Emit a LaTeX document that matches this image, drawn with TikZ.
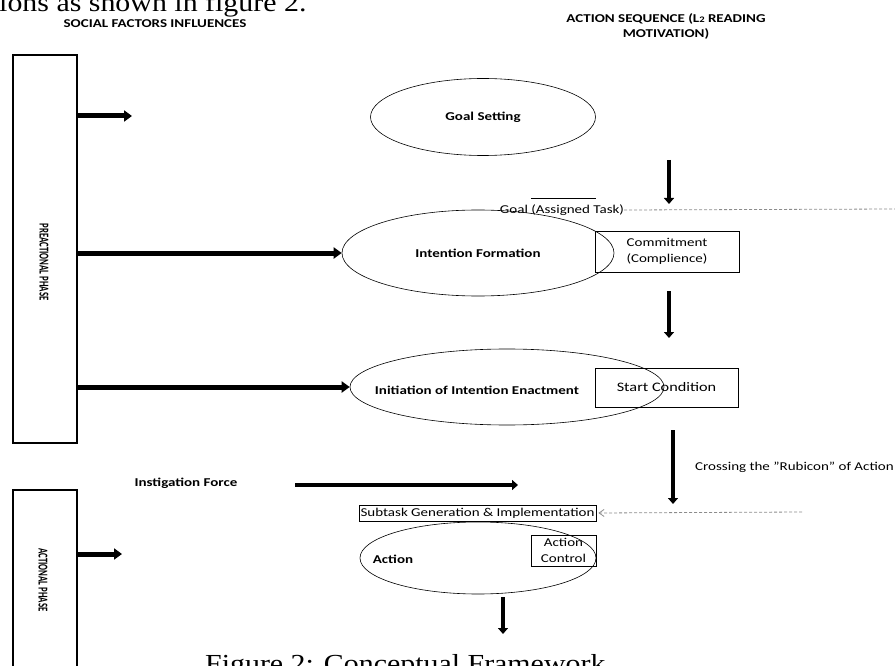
\documentclass[tikz,border=0pt]{standalone}
\usepackage{fontspec}
\setmainfont{Carlito}[FakeStretch=1.25]
\newfontfamily\capserif{Liberation Serif}[FakeStretch=1.15]
\newfontfamily\phasefont{Carlito}[FakeStretch=0.65]
\usetikzlibrary{arrows.meta,shapes.geometric,positioning}

\begin{document}
\begin{tikzpicture}[x=1pt,y=-1pt,
  lbl/.style={inner sep=0pt,font=\fontsize{12}{15}\selectfont},
  boldlbl/.style={inner sep=0pt,font=\fontsize{12}{14}\selectfont\bfseries},
  heading/.style={inner sep=0pt,align=center,font=\fontsize{12}{15}\selectfont\bfseries},
  serifline/.style={anchor=base west,inner sep=0pt,font=\capserif\fontsize{26}{30}\selectfont},
  phasebox/.style={draw,line width=1.2pt,inner sep=0pt},
  phasename/.style={rotate=-90,inner sep=0pt,font=\phasefont\fontsize{13.5}{15}\selectfont\bfseries},
  stage/.style={ellipse,draw,line width=0.6pt,inner sep=0pt,font=\fontsize{12}{14}\selectfont\bfseries},
  tagbox/.style={draw,line width=0.8pt,inner sep=0pt,align=center,font=\fontsize{12}{16}\selectfont},
  fatarrow/.style={-{Triangle[length=8pt,width=11pt]},line width=5pt},
  slimarrow/.style={-{Triangle[length=6pt,width=10pt]},line width=4pt},
  greydash/.style={black!45,line width=0.8pt,dash pattern=on 3pt off 2pt}
]
\clip (0,0) rectangle (895,666);

\node[serifline] (lead) at (-1,12) {ions as shown in figure 2.};
\node[heading] (social) at (155,24) {SOCIAL FACTORS INFLUENCES};
\node[heading] (sequence) at (666,26) {ACTION SEQUENCE (L{\fontsize{8.5}{9}\selectfont 2} READING\\MOTIVATION)};

\node[phasebox,minimum width=64pt,minimum height=388pt] (pre) at (45,249) {};
\node[phasename] (prename) at (44,262) {PREACTIONAL PHASE};
\node[phasebox,minimum width=64pt,minimum height=210pt] (act) at (45,595) {};
\node[phasename] (actname) at (43,580) {ACTIONAL PHASE};

\node[stage,minimum width=225pt,minimum height=77pt] (goal) at (483,117) {Goal Setting};
\node[lbl] (assigned) at (562,210) {Goal (Assigned Task)};
\draw[line width=0.8pt] ([xshift=31pt,yshift=6pt]assigned.north west) -- ++(65,0);
\node[stage,minimum width=272pt,minimum height=86pt] (intent) at (478,253) {Intention Formation};
\node[tagbox,minimum width=144pt,minimum height=41pt] (commit) at (667,251.5) {Commitment\\(Complience)};
\node[stage,minimum width=314pt,minimum height=76pt] (init) at (507,387) {};
\node[boldlbl] (inittext) at (477,390) {Initiation of Intention Enactment};
\node[tagbox,minimum width=143pt,minimum height=39pt,font=\fontsize{13}{16}\selectfont] (start) at (666.5,387.5) {Start Condition};
\node[lbl,anchor=west] (rubicon) at (695,467) {Crossing the "Rubicon" of Action};

\node[boldlbl] (instig) at (186,483) {Instigation Force};
\node[tagbox,minimum width=237pt,minimum height=16pt,font=\fontsize{12}{13}\selectfont] (subtask) at (477.5,513) {Subtask Generation \& Implementation};
\node[stage,minimum width=236pt,minimum height=72pt] (action) at (478,558) {};
\node[boldlbl] (actiontext) at (393,559) {Action};
\node[tagbox,minimum width=65pt,minimum height=31pt] (control) at (563.5,550.5) {Action\\Control};

\node[serifline] (caption) at (205,672) {Figure 2: Conceptual Framework};

\coordinate (p1) at (132,116);
\coordinate (a1) at (122,554);
\draw[fatarrow] (pre.east |- p1) -- (p1);
\draw[fatarrow] (pre.east |- intent.west) -- (intent.west);
\draw[fatarrow] (pre.east |- init.west) -- (init.west);
\draw[fatarrow] (act.east |- a1) -- (a1);

\coordinate (f0) at (295,485);
\coordinate (f1) at (518,485);
\draw[slimarrow] (f0) -- (f1);

\coordinate (s1) at (669,160);
\coordinate (s1e) at (669,204);
\coordinate (s2) at (669,291);
\coordinate (s2e) at (669,338);
\coordinate (s3) at (673,430);
\coordinate (s3e) at (673,504);
\coordinate (s4) at (503,597);
\coordinate (s4e) at (503,634);
\draw[slimarrow] (s1) -- (s1e);
\draw[slimarrow] (s2) -- (s2e);
\draw[slimarrow] (s3) -- (s3e);
\draw[slimarrow] (s4) -- (s4e);

\coordinate (gend) at (895,209);
\coordinate (rub0) at (802,512);
\draw[greydash] (assigned.east) -- (gend);
\draw[greydash,-{Straight Barb[length=5pt,width=7pt]},shorten >=2pt] (rub0) -- (subtask.east);
\end{tikzpicture}
\end{document}
